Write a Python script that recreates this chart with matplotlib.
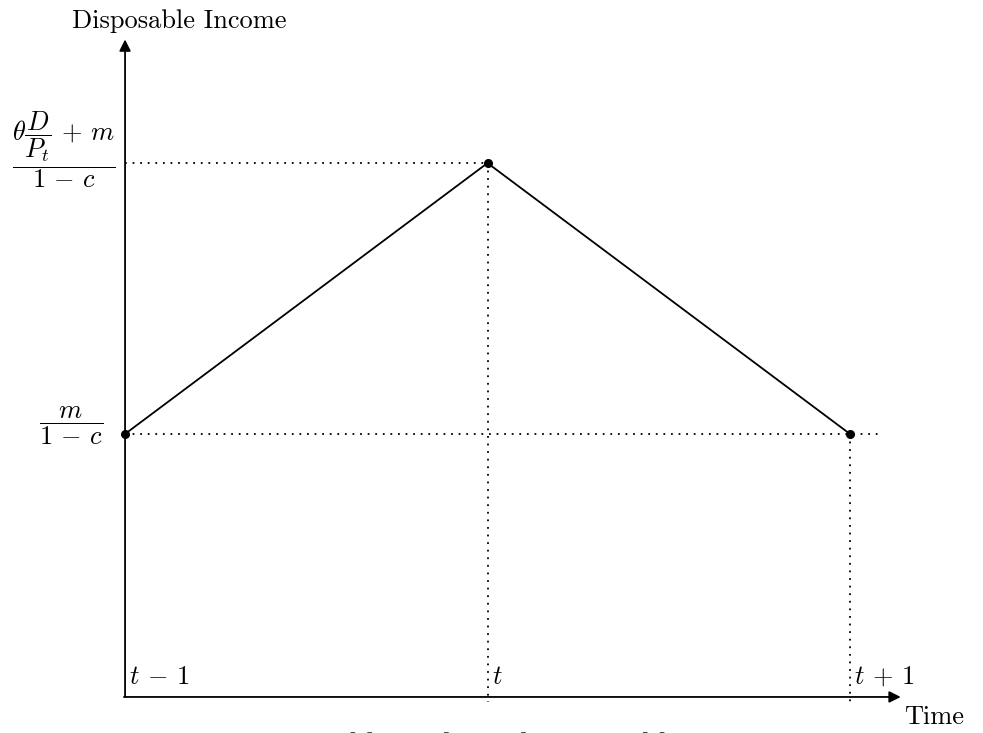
import matplotlib.pyplot as plt

plt.rcParams['font.family'] = 'serif'
plt.rcParams['font.serif'] = ['cmr10']
plt.rcParams['mathtext.fontset'] = 'cm'
plt.rcParams['axes.formatter.use_mathtext'] = True

# data
time_pts = [0, 1, 2]
time_labels = [r'$t\,-\,1$', '$t$', r'$t\,+\,1$']
income = [1.0, 2.03, 1.0]
level_labels = [r'$\dfrac{m}{1\,-\,c}$', r'$\dfrac{\theta\dfrac{D}{P_t}\,+\,m}{1\,-\,c}$']

fig = plt.figure(figsize=(9.83, 7.33), dpi=100)
ax = fig.add_axes([0, 0, 1, 1])
ax.set_xlim(-0.345, 2.367)
ax.set_ylim(-0.137, 2.65)
ax.axis('off')

# axes with arrows
arrow = dict(arrowstyle='-|>', lw=1.3, color='black', mutation_scale=17, shrinkA=0, shrinkB=0)
ax.annotate('', xy=(0, 2.5), xytext=(0, 0), arrowprops=arrow)
ax.annotate('', xy=(2.14, 0), xytext=(-0.003, 0), arrowprops=arrow)
ax.text(0.15, 2.57, 'Disposable Income', fontsize=19, ha='center', va='center')
ax.text(2.15, -0.075, 'Time', fontsize=19, ha='left', va='center')

# guide lines
dots = dict(color='black', lw=1.3, linestyle=(0, (1, 3.2)))
low, high = income[0], income[1]
ax.plot([0, 2.08], [low, low], **dots)
ax.plot([0, time_pts[1]], [high, high], **dots)
ax.plot([time_pts[1], time_pts[1]], [high, -0.02], **dots)
ax.plot([time_pts[2], time_pts[2]], [income[2], -0.03], **dots)

# income path
ax.plot(time_pts, income, color='black', lw=1.3)
ax.plot(time_pts, income, 'o', color='black', ms=5.5)

for x, lab in zip(time_pts, time_labels):
    ax.text(x + 0.012, 0.075, lab, fontsize=19, ha='left', va='center')

ax.text(-0.148, 1.03, level_labels[0], fontsize=19, ha='center', va='center')
ax.text(-0.168, 2.08, level_labels[1], fontsize=19, ha='center', va='center')

# caption, cut off by the bottom edge as in the source page
fig.text(182 / 983, 1 - 752 / 733, 'Figure 3: Public Debt and Disposable Income', fontsize=19,
         fontstyle='italic', family='DejaVu Serif', ha='left', va='baseline', color='0.3')

fig.savefig('out.png', dpi=100)
